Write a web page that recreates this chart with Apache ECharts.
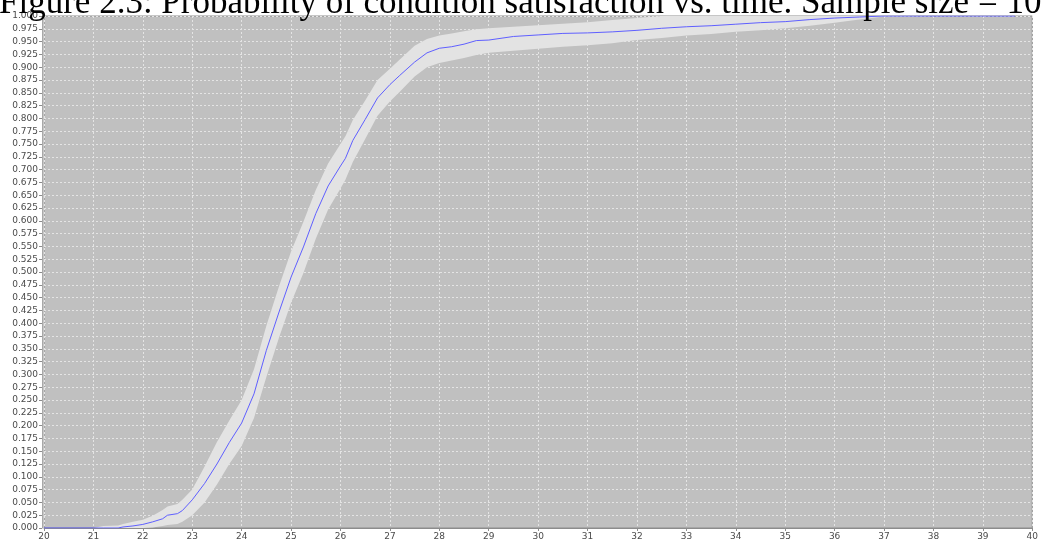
<!DOCTYPE html>
<html>
<head>
<meta charset="utf-8">
<script src="https://cdn.jsdelivr.net/npm/echarts@6/dist/echarts.min.js"></script>
<style>html,body{margin:0;padding:0;background:#fff;}#c{width:1041px;height:544px;}</style>
</head>
<body>
<div id="c"></div>
<script>
const titleText = 'Figure 2.3: Probability of condition satisfaction vs. time. Sample size = 1000.';
const xTickLabels = ['20','21','22','23','24','25','26','27','28','29','30','31','32','33','34','35','36','37','38','39','40'];
const time = [20, 21, 21.2, 21.5, 21.6, 21.8, 22, 22.2, 22.4, 22.5, 22.7, 22.8, 23, 23.25, 23.5, 23.75, 24, 24.25, 24.5, 24.75, 25, 25.25, 25.5, 25.75, 26, 26.1, 26.25, 26.5, 26.75, 27, 27.2, 27.5, 27.75, 28, 28.25, 28.5, 28.75, 29, 29.5, 30, 30.5, 31, 31.5, 32, 32.5, 33, 33.5, 34, 34.5, 35, 35.5, 36, 36.5, 37, 38, 39, 39.65];
const meanProb = [0, 0, 0, 0, 0.002, 0.004, 0.007, 0.012, 0.018, 0.025, 0.028, 0.034, 0.055, 0.087, 0.125, 0.167, 0.205, 0.262, 0.347, 0.42, 0.49, 0.549, 0.614, 0.668, 0.707, 0.722, 0.757, 0.798, 0.84, 0.866, 0.884, 0.91, 0.928, 0.937, 0.94, 0.945, 0.952, 0.953, 0.96, 0.963, 0.966, 0.967, 0.969, 0.972, 0.976, 0.979, 0.981, 0.984, 0.987, 0.989, 0.993, 0.996, 0.998, 1, 1, 1, 1];
const upperProb = [0, 0, 0.004, 0.005, 0.008, 0.012, 0.016, 0.024, 0.035, 0.042, 0.047, 0.055, 0.075, 0.12, 0.168, 0.21, 0.25, 0.31, 0.395, 0.47, 0.54, 0.598, 0.66, 0.712, 0.75, 0.765, 0.797, 0.835, 0.875, 0.897, 0.915, 0.942, 0.955, 0.962, 0.966, 0.97, 0.974, 0.976, 0.979, 0.982, 0.985, 0.988, 0.992, 0.996, 1, 1, 1, 1, 1, 1, 1, 1, 1, 1, 1, 1, 1];
const lowerProb = [0, 0, 0, 0, 0, 0, 0, 0.001, 0.004, 0.006, 0.008, 0.012, 0.025, 0.05, 0.085, 0.125, 0.16, 0.215, 0.295, 0.37, 0.44, 0.498, 0.565, 0.622, 0.663, 0.68, 0.715, 0.76, 0.805, 0.833, 0.852, 0.882, 0.9, 0.908, 0.913, 0.918, 0.924, 0.928, 0.932, 0.936, 0.94, 0.943, 0.947, 0.953, 0.957, 0.962, 0.965, 0.969, 0.972, 0.976, 0.981, 0.987, 0.993, 0.999, 1, 1, 1];

const chart = echarts.init(document.getElementById('c'), null, {renderer: 'canvas'});
const labelStyle = {color: '#4a4a4a', fontFamily: 'DejaVu Sans', fontSize: 9};
chart.setOption({
  animation: false,
  backgroundColor: '#ffffff',
  title: {
    text: titleText, left: -1, top: -14, padding: 0, z: 10,
    textStyle: {fontFamily: 'Liberation Serif', fontSize: 35, fontWeight: 'normal', color: '#000'}
  },
  grid: {left: 44, right: 5, top: 16, bottom: 16, show: true, backgroundColor: '#c0c0c0', borderColor: '#8c8c8c', borderWidth: 1},
  xAxis: {
    type: 'value', min: 20, max: 40, interval: 1,
    axisLine: {show: true, onZero: false, lineStyle: {color: '#8c8c8c'}},
    axisTick: {show: true, length: 3, lineStyle: {color: '#8c8c8c'}},
    axisLabel: Object.assign({margin: 4, formatter: v => xTickLabels[Math.round(v - 20)]}, labelStyle),
    splitLine: {show: true, lineStyle: {color: '#e4e4e4', type: [2, 2], width: 1}}
  },
  yAxis: {
    type: 'value', min: 0, max: 1, interval: 0.025, offset: 2,
    axisLine: {show: true, lineStyle: {color: '#a8a8a8'}},
    axisTick: {show: true, length: 3, lineStyle: {color: '#8c8c8c'}},
    axisLabel: Object.assign({margin: 4, formatter: v => v.toFixed(3)}, labelStyle),
    splitLine: {show: true, lineStyle: {color: '#e4e4e4', type: [2, 2], width: 1}}
  },
  series: [
    {
      type: 'custom', z: 2, silent: true,
      data: [[time[0], lowerProb[0]]],
      encode: {x: 0, y: 1},
      renderItem: function (params, api) {
        const pts = [];
        for (let i = 0; i < time.length; i++) pts.push(api.coord([time[i], upperProb[i]]));
        for (let i = time.length - 1; i >= 0; i--) pts.push(api.coord([time[i], lowerProb[i]]));
        return {type: 'polygon', shape: {points: pts}, style: {fill: '#e3e3e3', stroke: null}};
      }
    },
    {
      type: 'line', z: 3, symbol: 'none', silent: true,
      data: time.map((t, i) => [t, meanProb[i]]),
      lineStyle: {color: '#5f5fff', width: 1}
    }
  ]
});
</script>
</body>
</html>
